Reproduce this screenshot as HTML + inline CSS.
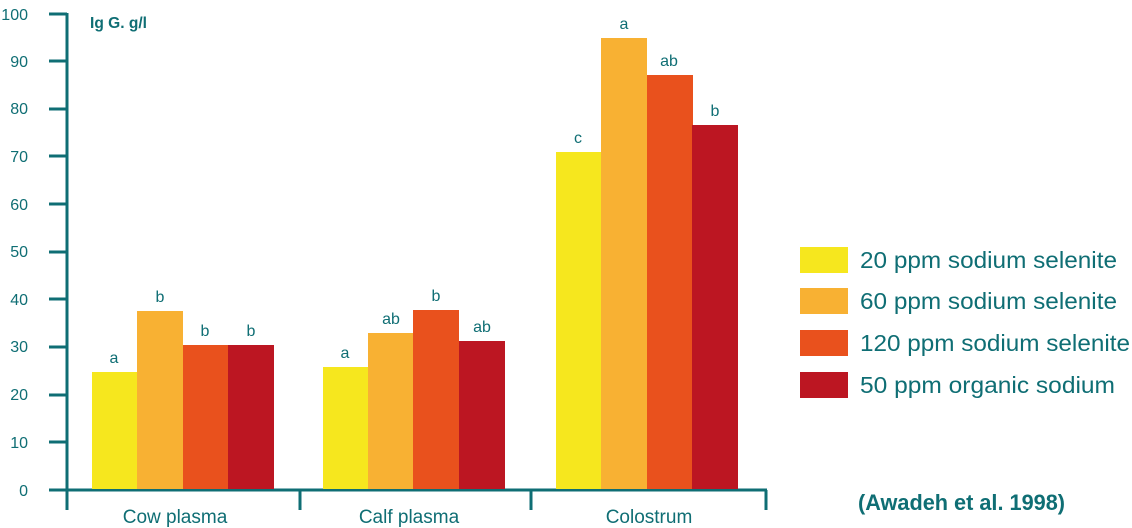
<!DOCTYPE html>
<html><head><style>
body{margin:0;background:#fff}
svg{display:block;font-family:"Liberation Sans",sans-serif}
</style></head><body>
<svg width="1132" height="528" viewBox="0 0 1132 528">
<g fill="#0f6e74" font-size="16" text-anchor="end">
<text x="28" y="20">100</text><text x="28" y="67">90</text><text x="28" y="114">80</text><text x="28" y="162">70</text><text x="28" y="210">60</text><text x="28" y="257">50</text><text x="28" y="305">40</text><text x="28" y="352">30</text><text x="28" y="400">20</text><text x="28" y="448">10</text><text x="28" y="496">0</text>
</g>
<g stroke="#0f6e74" stroke-width="3">
<line x1="67" y1="13" x2="67" y2="510"/>
<line x1="49" y1="14" x2="67" y2="14"/><line x1="49" y1="61" x2="67" y2="61"/><line x1="49" y1="109" x2="67" y2="109"/><line x1="49" y1="156" x2="67" y2="156"/><line x1="49" y1="204" x2="67" y2="204"/><line x1="49" y1="252" x2="67" y2="252"/><line x1="49" y1="299" x2="67" y2="299"/><line x1="49" y1="347" x2="67" y2="347"/><line x1="49" y1="395" x2="67" y2="395"/><line x1="49" y1="442" x2="67" y2="442"/><line x1="49" y1="490" x2="767" y2="490"/>
<line x1="300" y1="490" x2="300" y2="510"/><line x1="531" y1="490" x2="531" y2="510"/><line x1="766" y1="490" x2="766" y2="510"/>
</g>
<text x="90" y="28" fill="#0f6e74" font-size="16" font-weight="bold" textLength="57" lengthAdjust="spacingAndGlyphs">Ig G. g/l</text>
<g>
<rect x="92" y="372" width="46" height="117" fill="#f6e71e"/>
<rect x="137" y="311" width="46" height="178" fill="#f8b133"/>
<rect x="183" y="345" width="46" height="144" fill="#e9511d"/>
<rect x="228" y="345" width="46" height="144" fill="#bc1622"/>
<rect x="323" y="367" width="46" height="122" fill="#f6e71e"/>
<rect x="368" y="333" width="46" height="156" fill="#f8b133"/>
<rect x="413" y="310" width="46" height="179" fill="#e9511d"/>
<rect x="459" y="341" width="46" height="148" fill="#bc1622"/>
<rect x="556" y="152" width="46" height="337" fill="#f6e71e"/>
<rect x="601" y="38" width="46" height="451" fill="#f8b133"/>
<rect x="647" y="75" width="46" height="414" fill="#e9511d"/>
<rect x="692" y="125" width="46" height="364" fill="#bc1622"/>
</g>
<g fill="#0f6e74" font-size="16" text-anchor="middle">
<text x="114" y="363">a</text><text x="160" y="302">b</text><text x="205" y="336">b</text><text x="251" y="336">b</text>
<text x="345" y="358">a</text><text x="391" y="324">ab</text><text x="436" y="301">b</text><text x="482" y="332">ab</text>
<text x="578" y="143">c</text><text x="624" y="29">a</text><text x="669" y="66">ab</text><text x="715" y="116">b</text>
</g>
<g fill="#0f6e74" font-size="19" text-anchor="middle">
<text x="175" y="523">Cow plasma</text><text x="409" y="523">Calf plasma</text><text x="649" y="523">Colostrum</text>
</g>
<rect x="800" y="247" width="48" height="26" fill="#f6e71e"/>
<rect x="800" y="288" width="48" height="26" fill="#f8b133"/>
<rect x="800" y="330" width="48" height="26" fill="#e9511d"/>
<rect x="800" y="372" width="48" height="26" fill="#bc1622"/>
<g fill="#0f6e74" font-size="23">
<text x="860" y="268" textLength="257" lengthAdjust="spacingAndGlyphs">20 ppm sodium selenite</text>
<text x="860" y="309" textLength="257" lengthAdjust="spacingAndGlyphs">60 ppm sodium selenite</text>
<text x="860" y="351" textLength="270" lengthAdjust="spacingAndGlyphs">120 ppm sodium selenite</text>
<text x="860" y="393" textLength="255" lengthAdjust="spacingAndGlyphs">50 ppm organic sodium</text>
</g>
<text x="858" y="510" fill="#0f6e74" font-size="22" font-weight="bold" textLength="207" lengthAdjust="spacingAndGlyphs">(Awadeh et al. 1998)</text>
</svg>
</body></html>
